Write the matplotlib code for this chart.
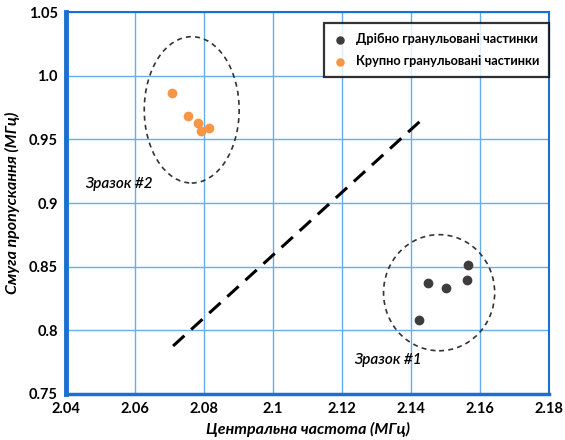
import matplotlib.pyplot as plt
from matplotlib.patches import Ellipse

# fine-grained sample (#1)
fine_x = [2.1564, 2.1561, 2.1449, 2.1500, 2.1423]
fine_y = [0.8513, 0.8397, 0.8369, 0.8329, 0.8077]

# coarse-grained sample (#2)
coarse_x = [2.0706, 2.0752, 2.0781, 2.0792, 2.0815]
coarse_y = [0.9864, 0.9686, 0.9626, 0.9567, 0.9589]

# separating line
sep_x = [2.071, 2.1435]
sep_y = [0.7876, 0.9666]

# ellipses: center x, center y, width, height
ell_fine = (2.1481, 0.8295, 0.0322, 0.0913)
ell_coarse = (2.0764, 0.9733, 0.0275, 0.1151)

xticks = [2.04, 2.06, 2.08, 2.1, 2.12, 2.14, 2.16, 2.18]
yticks = [0.75, 0.8, 0.85, 0.9, 0.95, 1.0, 1.05]
xtick_labels = ['2.04', '2.06', '2.08', '2.1', '2.12', '2.14', '2.16', '2.18']
ytick_labels = ['0.75', '0.8', '0.85', '0.9', '0.95', '1.0', '1.05']

plt.rcParams['font.family'] = ['Lato', 'DejaVu Sans']

fig = plt.figure(figsize=(5.65, 4.4), dpi=100)
ax = fig.add_axes([0.117, 0.105, 0.855, 0.867])

grid_c = '#62aef0'
spine_c = '#1a6fd0'

ax.set_xlim(2.04, 2.18)
ax.set_ylim(0.75, 1.05)
ax.set_xticks(xticks)
ax.set_xticklabels(xtick_labels)
ax.set_yticks(yticks)
ax.set_yticklabels(ytick_labels)
ax.grid(True, color=grid_c, linewidth=1.0)
ax.set_axisbelow(True)
ax.tick_params(length=0, labelsize=10.5, pad=6)
for lab in ax.get_xticklabels() + ax.get_yticklabels():
    lab.set_fontweight('bold')

for side in ['top', 'right']:
    ax.spines[side].set_color(spine_c)
    ax.spines[side].set_linewidth(1.5)
ax.spines['left'].set_color(spine_c)
ax.spines['left'].set_linewidth(3.5)
ax.spines['bottom'].set_color(spine_c)
ax.spines['bottom'].set_linewidth(2.5)

ax.plot(sep_x, sep_y, color='black', linestyle=(0, (5, 3)), linewidth=2.2)

for cx, cy, w, h in [ell_fine, ell_coarse]:
    ax.add_patch(Ellipse((cx, cy), w, h, fill=False, edgecolor='#333333',
                         linestyle=(0, (3, 2.5)), linewidth=1.2))

ax.scatter(fine_x, fine_y, s=36, color='#3d3d3d', zorder=3,
           label='Дрібно гранульовані частинки')
ax.scatter(coarse_x, coarse_y, s=36, color='#f79646', zorder=3,
           label='Крупно гранульовані частинки')

ax.text(2.0455, 0.915, 'Зразок #2', fontsize=11, style='italic',
        fontweight='semibold', va='center', ha='left')
ax.text(2.1235, 0.7765, 'Зразок #1', fontsize=11, style='italic',
        fontweight='semibold', va='center', ha='left')

ax.set_xlabel('Центральна частота (МГц)', fontsize=11.5, style='italic',
              fontweight='bold', labelpad=4)
ax.set_ylabel('Смуга пропускання (МГц)', fontsize=11.5, style='italic',
              fontweight='bold', labelpad=6)

leg = ax.legend(loc='upper right', bbox_to_anchor=(1.0, 0.973), fontsize=9.2,
                frameon=True, fancybox=False, edgecolor='black',
                handletextpad=0.7, markerscale=0.85, borderpad=0.8,
                labelspacing=0.8, handlelength=1.0, borderaxespad=0)
leg.get_frame().set_linewidth(1.6)
for t in leg.get_texts():
    t.set_fontweight('bold')

fig.savefig('out.png', dpi=100)
